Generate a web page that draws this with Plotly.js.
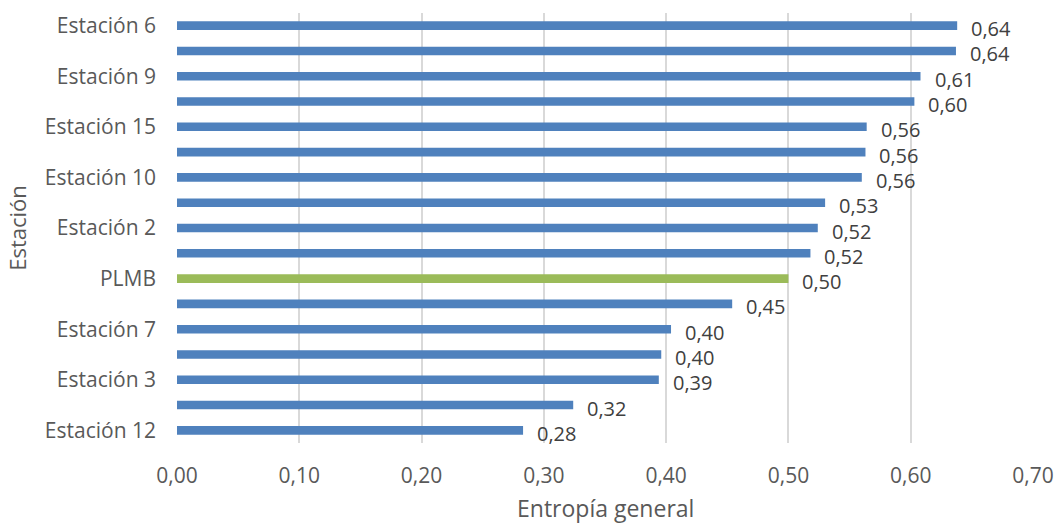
<!DOCTYPE html>
<html>
<head>
<meta charset="utf-8">
<script src="https://cdn.plot.ly/plotly-3.0.1.min.js"></script>
<style>
  html, body { margin: 0; padding: 0; background: #ffffff; }
  #chart { width: 1057px; height: 524px; }
</style>
</head>
<body>
<div id="chart"></div>
<script>
// Categories, top to bottom
const estaciones = [
  "Estación 6", "Estación 1", "Estación 9", "Estación 4", "Estación 15",
  "Estación 5", "Estación 10", "Estación 8", "Estación 2", "Estación 11",
  "PLMB", "Estación 13", "Estación 7", "Estación 14", "Estación 3",
  "Estación 16", "Estación 12"
];
// Entropía general values
const entropia = [
  0.638, 0.637, 0.608, 0.603, 0.564,
  0.563, 0.560, 0.530, 0.524, 0.518,
  0.500, 0.454, 0.404, 0.396, 0.394,
  0.324, 0.283
];
// Category labels shown on the axis
const etiquetasVisibles = [
  "Estación 6", "Estación 9", "Estación 15", "Estación 10", "Estación 2",
  "PLMB", "Estación 7", "Estación 3", "Estación 12"
];
const xTicks = [0, 0.1, 0.2, 0.3, 0.4, 0.5, 0.6, 0.7];
const tituloX = "Entropía general";
const tituloY = "Estación";

const BLUE = "#4F81BD", GREEN = "#9BBB59", TXT = "#595959";
const FONT = "Open Sans";

const fmt = v => v.toFixed(2).replace(".", ",");

const trace = {
  type: "bar",
  orientation: "h",
  x: entropia,
  y: estaciones,
  width: 0.34,
  marker: { color: estaciones.map(c => c === "PLMB" ? GREEN : BLUE) },
  hoverinfo: "x+y"
};

const annotations = estaciones.map((c, i) => ({
  x: entropia[i], y: c, xref: "x", yref: "y",
  text: fmt(entropia[i]), showarrow: false,
  xanchor: "left", yanchor: "middle", xshift: 12, yshift: -3,
  font: { family: FONT, size: 20, color: "#404040" }
}));

// x-axis title placed below the tick labels
annotations.push({
  x: 0.5, y: 0, xref: "paper", yref: "paper",
  text: tituloX, showarrow: false,
  xanchor: "center", yanchor: "top", yshift: -47,
  font: { family: FONT, size: 23, color: TXT }
});

const layout = {
  width: 1057, height: 524,
  margin: { l: 177, r: 24, t: 11, b: 81 },
  paper_bgcolor: "#ffffff", plot_bgcolor: "#ffffff",
  showlegend: false,
  separators: ",.",
  font: { family: FONT, size: 21, color: TXT },
  xaxis: {
    range: [0, 0.7],
    automargin: false,
    tickvals: xTicks,
    ticktext: xTicks.map(fmt),
    showgrid: true, gridcolor: "#D9D9D9", gridwidth: 2,
    zeroline: false, showline: false, ticks: "",
    tickfont: { family: FONT, size: 21, color: TXT },
    ticklabelstandoff: 18
  },
  yaxis: {
    type: "category",
    automargin: true,
    categoryorder: "array", categoryarray: estaciones,
    range: [estaciones.length - 0.5, -0.5],
    autorange: false,
    tickvals: etiquetasVisibles, ticktext: etiquetasVisibles,
    showgrid: false, zeroline: false, showline: false, ticks: "",
    tickfont: { family: FONT, size: 21, color: TXT },
    ticklabelstandoff: 20,
    title: { text: tituloY, font: { family: FONT, size: 22, color: TXT }, standoff: 12 }
  },
  annotations: annotations
};

Plotly.newPlot("chart", [trace], layout, { displayModeBar: false, staticPlot: true });
</script>
</body>
</html>
